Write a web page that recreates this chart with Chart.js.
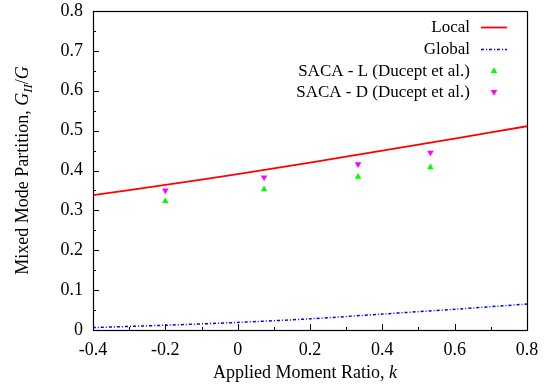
<!DOCTYPE html>
<html>
<head>
<meta charset="utf-8">
<script src="https://cdn.jsdelivr.net/npm/chart.js@4"></script>
<style>
  html, body { margin: 0; padding: 0; background: #fff; }
  #wrap { width: 551px; height: 391px; }
</style>
</head>
<body>
<div id="wrap"><canvas id="c" width="551" height="391"></canvas></div>
<script>
// Applied moment ratio k for the analytical curves
const kCurve = [-0.4, -0.2, 0, 0.2, 0.4, 0.6, 0.8];
// Mode II fraction G_II/G predicted by the local and global partitions
const localPartition = [0.338, 0.364, 0.391, 0.420, 0.450, 0.480, 0.511];
const globalPartition = [0.006, 0.012, 0.019, 0.028, 0.040, 0.052, 0.065];

// Ducept et al. SACA results
const kTest = [-0.2, 0.073, 0.333, 0.533];
const sacaL = [0.323, 0.353, 0.384, 0.408];
const sacaD = [0.350, 0.383, 0.416, 0.445];

const seriesNames = ['Local', 'Global', 'SACA - L (Ducept et al.)', 'SACA - D (Ducept et al.)'];
const xTickLabels = ['-0.4', '-0.2', '0', '0.2', '0.4', '0.6', '0.8'];
const yTickLabels = ['0', '0.1', '0.2', '0.3', '0.4', '0.5', '0.6', '0.7', '0.8'];

const FONT = '"Liberation Serif", "DejaVu Serif", serif';
const FS = 18;      // axis titles and tick labels
const FS_KEY = 17;  // key entries

const pts = (xs, ys) => xs.map((x, i) => ({ x, y: ys[i] }));

// Frame, inward tick marks, axis titles and key drawn on the canvas
const framePlugin = {
  id: 'frame',
  afterDatasetsDraw(chart) {
    const { ctx, chartArea: a, scales } = chart;
    const xs = scales.x, ys = scales.y;
    ctx.save();
    ctx.strokeStyle = '#000';
    ctx.lineWidth = 1.2;
    ctx.strokeRect(a.left + 0.5, a.top + 0.5, a.right - a.left, a.bottom - a.top);

    ctx.lineWidth = 1;
    ctx.beginPath();
    for (let i = 0; i <= 16; i++) {
      const v = i * 0.05;
      const len = i % 2 === 0 ? 6 : 3;
      const py = Math.round(ys.getPixelForValue(v)) + 0.5;
      ctx.moveTo(a.left, py); ctx.lineTo(a.left + len, py);
    }
    for (let i = 0; i <= 12; i++) {
      const v = -0.4 + i * 0.1;
      const len = i % 2 === 0 ? 6 : 3;
      const px = Math.round(xs.getPixelForValue(v)) + 0.5;
      ctx.moveTo(px, a.bottom); ctx.lineTo(px, a.bottom - len);
    }
    ctx.stroke();

    // x axis title
    ctx.fillStyle = '#000';
    ctx.textBaseline = 'alphabetic';
    const xParts = [['Applied Moment Ratio, ', FS + 'px ' + FONT], ['k', 'italic ' + FS + 'px ' + FONT]];
    let w = 0;
    xParts.forEach(p => { ctx.font = p[1]; w += ctx.measureText(p[0]).width; });
    let cx = 305 - w / 2;
    xParts.forEach(p => { ctx.font = p[1]; ctx.textAlign = 'left'; ctx.fillText(p[0], cx, 378); cx += ctx.measureText(p[0]).width; });

    // y axis title (rotated), with subscript
    const yParts = [
      ['Mixed Mode Partition, ', FS + 'px ' + FONT, 0],
      ['G', 'italic ' + FS + 'px ' + FONT, 0],
      ['II', 'italic ' + Math.round(FS * 0.72) + 'px ' + FONT, 4],
      ['/', FS + 'px ' + FONT, 0],
      ['G', 'italic ' + FS + 'px ' + FONT, 0]
    ];
    w = 0;
    yParts.forEach(p => { ctx.font = p[1]; w += ctx.measureText(p[0]).width; });
    ctx.translate(28, (a.top + a.bottom) / 2);
    ctx.rotate(-Math.PI / 2);
    cx = -w / 2;
    yParts.forEach(p => { ctx.font = p[1]; ctx.textAlign = 'left'; ctx.fillText(p[0], cx, p[2]); cx += ctx.measureText(p[0]).width; });
    ctx.restore();

    // key
    ctx.save();
    ctx.font = FS_KEY + 'px ' + FONT;
    ctx.textAlign = 'right';
    ctx.textBaseline = 'middle';
    ctx.fillStyle = '#000';
    const rowY = [27, 49, 71, 92];
    chart.data.datasets.forEach((ds, i) => {
      const y = rowY[i];
      ctx.fillText(ds.label, 470, y + 1);
      if (ds.showLine) {
        ctx.strokeStyle = ds.borderColor;
        ctx.lineWidth = ds.borderWidth;
        ctx.setLineDash(ds.borderDash || []);
        ctx.beginPath();
        ctx.moveTo(481, y + 0.5); ctx.lineTo(507, y + 0.5);
        ctx.stroke();
        ctx.setLineDash([]);
      } else {
        ctx.fillStyle = ds.backgroundColor;
        Chart.helpers.drawPoint(ctx, {
          pointStyle: ds.pointStyle, rotation: ds.rotation || 0,
          radius: ds.pointRadius, borderWidth: 0
        }, 494, y);
        ctx.fillStyle = '#000';
      }
    });
    ctx.restore();
  }
};

new Chart(document.getElementById('c'), {
  type: 'scatter',
  data: {
    datasets: [
      {
        label: seriesNames[0], data: pts(kCurve, localPartition), showLine: true,
        borderColor: '#ff0000', backgroundColor: '#ff0000', borderWidth: 1.8,
        pointRadius: 0, tension: 0.3
      },
      {
        label: seriesNames[1], data: pts(kCurve, globalPartition), showLine: true,
        borderColor: '#0000ff', backgroundColor: '#0000ff', borderWidth: 1.5,
        borderDash: [3, 2, 1, 2], pointRadius: 0, tension: 0.3
      },
      {
        label: seriesNames[2], data: pts(kTest, sacaL), showLine: false,
        pointStyle: 'triangle', pointRadius: 3.8, backgroundColor: '#00ff00',
        borderColor: '#00ff00', borderWidth: 0
      },
      {
        label: seriesNames[3], data: pts(kTest, sacaD), showLine: false,
        pointStyle: 'triangle', rotation: 180, pointRadius: 3.8, backgroundColor: '#ff00ff',
        borderColor: '#ff00ff', borderWidth: 0
      }
    ]
  },
  options: {
    responsive: false,
    animation: false,
    devicePixelRatio: 1,
    layout: { padding: { top: 11, right: 24, left: 0, bottom: 0 } },
    plugins: { legend: { display: false }, tooltip: { enabled: false } },
    scales: {
      x: {
        type: 'linear', min: -0.4, max: 0.8,
        afterFit(s) { s.height = 61; s.paddingLeft = 0; s.paddingRight = 0; },
        afterBuildTicks(s) { s.ticks = xTickLabels.map(t => ({ value: parseFloat(t) })); },
        grid: { display: false, drawTicks: false },
        border: { display: false },
        ticks: {
          padding: 9, color: '#000', font: { family: FONT, size: FS },
          maxRotation: 0, autoSkip: false,
          callback: (v, i) => xTickLabels[i]
        }
      },
      y: {
        type: 'linear', min: 0, max: 0.8,
        afterFit(s) { s.width = 93; s.paddingTop = 0; s.paddingBottom = 0; },
        afterBuildTicks(s) { s.ticks = yTickLabels.map(t => ({ value: parseFloat(t) })); },
        grid: { display: false, drawTicks: false },
        border: { display: false },
        ticks: {
          padding: 10, color: '#000', font: { family: FONT, size: FS },
          autoSkip: false,
          callback: (v, i) => yTickLabels[i]
        }
      }
    }
  },
  plugins: [framePlugin]
});
</script>
</body>
</html>
